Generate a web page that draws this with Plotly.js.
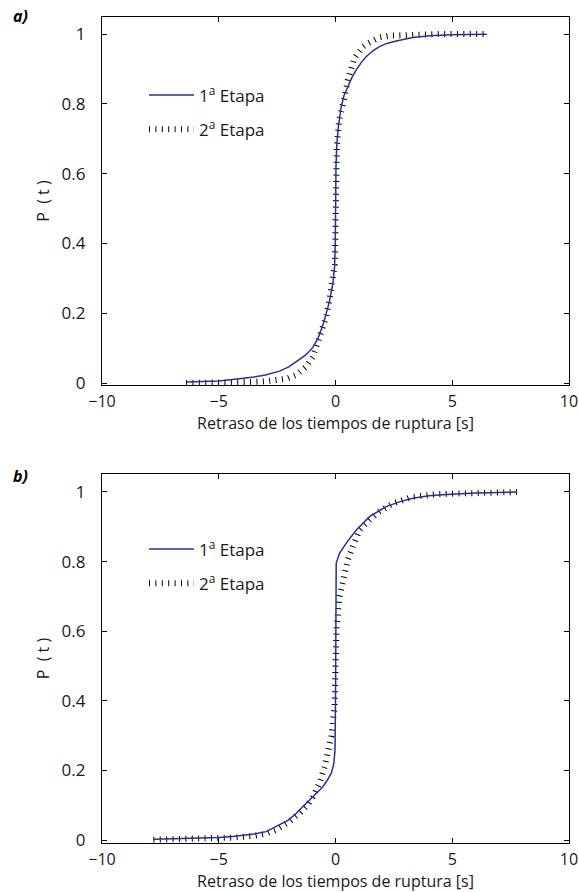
<!DOCTYPE html>
<html>
<head>
<meta charset="utf-8">
<script src="https://cdn.plot.ly/plotly-3.0.1.min.js"></script>
<style>html,body{margin:0;padding:0;background:#fff;}#chart{width:579px;height:892px;}</style>
</head>
<body>
<div id="chart"></div>
<script>
// Panel a) — 1ª Etapa (solid)
var aX1 = [-6.4, -5.5, -5, -4.4, -4, -3.5, -3, -2.4, -2, -1.54, -1.3, -1.15, -0.97, -0.75, -0.54, -0.4, -0.26, -0.11, -0.04, -0.01, 0, 0.02, 0.06, 0.12, 0.24, 0.36, 0.53, 0.7, 0.89, 1.1, 1.31, 1.6, 1.88, 2.2, 2.6, 3.0, 3.31, 4.03, 5, 6.48];
var aY1 = [0.003, 0.004, 0.006, 0.010, 0.013, 0.017, 0.023, 0.034, 0.046, 0.066, 0.079, 0.089, 0.102, 0.128, 0.166, 0.198, 0.234, 0.286, 0.333, 0.40, 0.5, 0.62, 0.687, 0.734, 0.79, 0.823, 0.849, 0.875, 0.897, 0.918, 0.935, 0.952, 0.964, 0.973, 0.98, 0.986, 0.99, 0.995, 0.998, 0.999];
// Panel a) — 2ª Etapa (dotted)
var aX2 = [-6.4, -5.5, -5, -4.5, -4, -3.5, -3, -2.5, -2.1, -1.68, -1.26, -0.97, -0.76, -0.54, -0.4, -0.26, -0.11, -0.03, 0, 0.02, 0.06, 0.15, 0.25, 0.39, 0.53, 0.67, 0.8, 0.96, 1.15, 1.38, 1.6, 1.88, 2.3, 2.8, 3.5, 4.5, 6.48];
var aY2 = [0.0, 0.0, 0.001, 0.001, 0.002, 0.003, 0.005, 0.008, 0.012, 0.023, 0.047, 0.075, 0.114, 0.152, 0.19, 0.238, 0.29, 0.34, 0.45, 0.58, 0.68, 0.75, 0.79, 0.82, 0.868, 0.906, 0.93, 0.944, 0.962, 0.973, 0.982, 0.99, 0.995, 0.997, 0.999, 1.0, 1.0];
// Panel b) — 1ª Etapa (solid)
var bX1 = [-7.8, -7, -6, -5, -4.4, -3.5, -2.97, -2.4, -2.0, -1.68, -1.4, -1.11, -0.8, -0.54, -0.35, -0.18, -0.07, -0.02, 0, 0.01, 0.03, 0.17, 0.46, 0.89, 1.46, 2.17, 2.8, 3.31, 4.0, 4.74, 6, 7.78];
var bY1 = [0.002, 0.003, 0.005, 0.007, 0.01, 0.017, 0.024, 0.043, 0.058, 0.077, 0.095, 0.115, 0.134, 0.153, 0.172, 0.192, 0.22, 0.26, 0.4, 0.6, 0.795, 0.824, 0.853, 0.891, 0.929, 0.958, 0.973, 0.982, 0.989, 0.993, 0.997, 1.0];
// Panel b) — 2ª Etapa (dotted)
var bX2 = [-7.8, -7, -6, -5, -4.4, -3.5, -3, -2.5, -2, -1.5, -1.2, -0.97, -0.69, -0.47, -0.33, -0.18, -0.11, -0.04, 0, 0.05, 0.17, 0.31, 0.53, 0.74, 1.03, 1.46, 1.88, 2.45, 3.31, 4.4, 6, 7.78];
var bY2 = [0.001, 0.002, 0.003, 0.005, 0.007, 0.012, 0.018, 0.03, 0.052, 0.08, 0.1, 0.124, 0.163, 0.21, 0.249, 0.297, 0.345, 0.383, 0.5, 0.613, 0.699, 0.747, 0.805, 0.843, 0.891, 0.92, 0.943, 0.967, 0.986, 0.994, 0.998, 1.0];

var seriesNames = ['1<sup>a</sup> Etapa', '2<sup>a</sup> Etapa'];
var xTicks = [-10, -5, 0, 5, 10];
var xTickText = ['\u221210', '\u22125', '0', '5', '10'];
var yTicks = [0, 0.2, 0.4, 0.6, 0.8, 1];
var yTickText = ['0', '0.2', '0.4', '0.6', '0.8', '1'];
var xTitle = 'Retraso de los tiempos de ruptura [s]';
var yTitle = 'P&nbsp;&nbsp;(&nbsp;t&nbsp;)';
var panelLabels = ['a)', 'b)'];

var W = 579, H = 892;
var FONT = 'Open Sans, Lato, sans-serif';
var FS = 17;
var TXT = '#1a1a1a';
var solidStyle = {color: '#22348f', width: 1.5};
var dotStyle = {color: '#000000', width: 6, dash: '1px,5.4px'};

var traces = [
  {x: aX2, y: aY2, name: seriesNames[1], mode: 'lines', line: dotStyle, xaxis: 'x', yaxis: 'y', legend: 'legend', legendgroup: 'g2', legendrank: 2, hoverinfo: 'skip'},
  {x: aX1, y: aY1, name: seriesNames[0], mode: 'lines', line: solidStyle, xaxis: 'x', yaxis: 'y', legend: 'legend', legendgroup: 'g1', legendrank: 1, hoverinfo: 'skip'},
  {x: bX2, y: bY2, name: seriesNames[1], mode: 'lines', line: dotStyle, xaxis: 'x2', yaxis: 'y2', legend: 'legend2', legendgroup: 'g4', legendrank: 2, hoverinfo: 'skip'},
  {x: bX1, y: bY1, name: seriesNames[0], mode: 'lines', line: solidStyle, xaxis: 'x2', yaxis: 'y2', legend: 'legend2', legendgroup: 'g3', legendrank: 1, hoverinfo: 'skip'}
];

function xAxis(anchor) {
  return {
    anchor: anchor, domain: [102 / W, 569 / W], range: [-10, 10],
    tickmode: 'array', tickvals: xTicks, ticktext: xTickText,
    ticks: 'inside', ticklen: 5, tickcolor: '#000', tickwidth: 1,
    showline: true, linecolor: '#000', linewidth: 1.2, mirror: 'ticks',
    showgrid: false, zeroline: false, ticklabelstandoff: 2,
    tickfont: {family: FONT, size: 16, color: TXT},
    title: {text: xTitle, font: {family: FONT, size: 16, color: TXT}, standoff: 0},
    automargin: false
  };
}
function yAxis(anchor, dom, rng) {
  return {
    anchor: anchor, domain: dom, range: rng,
    tickmode: 'array', tickvals: yTicks, ticktext: yTickText,
    ticks: 'inside', ticklen: 5, tickcolor: '#000', tickwidth: 1,
    showline: true, linecolor: '#000', linewidth: 1.2, mirror: 'ticks',
    showgrid: false, zeroline: false, ticklabelstandoff: 12,
    tickfont: {family: FONT, size: FS, color: TXT},
    title: {text: yTitle, font: {family: FONT, size: 16, color: TXT}, standoff: 7},
    automargin: false
  };
}
function legendCfg(yc) {
  return {
    x: 144 / W, xanchor: 'left', y: yc, yanchor: 'middle',
    bgcolor: 'rgba(0,0,0,0)', borderwidth: 0,
    font: {family: FONT, size: FS, color: TXT},
    traceorder: 'grouped', tracegroupgap: 9, itemwidth: 45
  };
}

var layout = {
  width: W, height: H,
  margin: {l: 0, r: 0, t: 0, b: 0},
  paper_bgcolor: '#fff', plot_bgcolor: '#fff',
  font: {family: FONT, color: TXT},
  showlegend: true,
  xaxis: xAxis('y'),
  yaxis: yAxis('x', [1 - 385 / H, 1 - 17 / H], [-0.0057, 1.0487]),
  xaxis2: xAxis('y2'),
  yaxis2: yAxis('x2', [1 - 843 / H, 1 - 474 / H], [-0.0086, 1.0517]),
  legend: legendCfg(1 - 112.5 / H),
  legend2: legendCfg(1 - 566.5 / H),
  annotations: [
    {text: '<b><i>' + panelLabels[0] + '</i></b>', xref: 'paper', yref: 'paper', x: 20 / W, y: 1 - 16 / H, showarrow: false, xanchor: 'center', yanchor: 'middle', font: {family: FONT, size: 16, color: '#000'}},
    {text: '<b><i>' + panelLabels[1] + '</i></b>', xref: 'paper', yref: 'paper', x: 20 / W, y: 1 - 476 / H, showarrow: false, xanchor: 'center', yanchor: 'middle', font: {family: FONT, size: 16, color: '#000'}}
  ]
};

Plotly.newPlot('chart', traces, layout, {staticPlot: true, displayModeBar: false});
</script>
</body>
</html>
